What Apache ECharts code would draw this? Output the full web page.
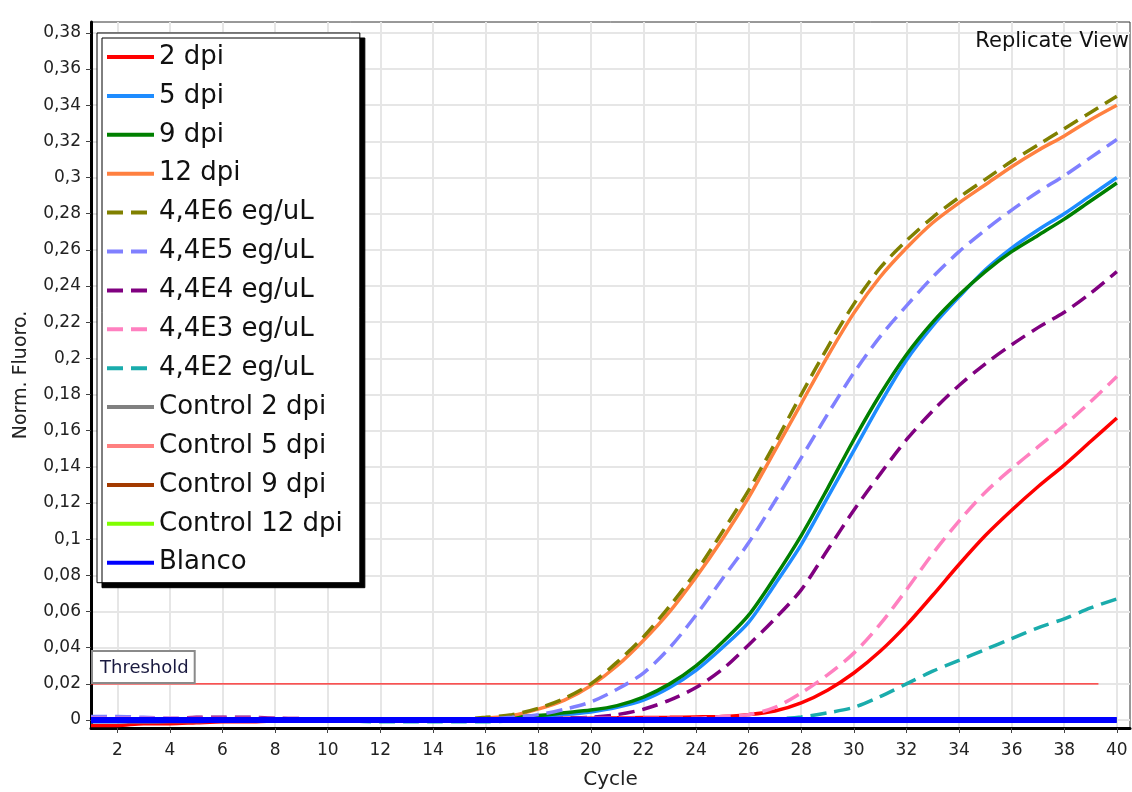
<!DOCTYPE html>
<html>
<head>
<meta charset="utf-8">
<script src="https://cdn.jsdelivr.net/npm/echarts@6/dist/echarts.min.js"></script>
<style>html,body{margin:0;padding:0;background:#fff}#c{width:1132px;height:792px}</style>
</head>
<body>
<div id="c"></div>
<script>
const cycles = [1,2,3,4,5,6,7,8,9,10,11,12,13,14,15,16,17,18,19,20,21,22,23,24,25,26,27,28,29,30,31,32,33,34,35,36,37,38,39,40];
const xTicks = [2,4,6,8,10,12,14,16,18,20,22,24,26,28,30,32,34,36,38,40];
const yTicks = [0,0.02,0.04,0.06,0.08,0.1,0.12,0.14,0.16,0.18,0.2,0.22,0.24,0.26,0.28,0.3,0.32,0.34,0.36,0.38];
const threshold = 0.02;
const thresholdSpan = [1, 39.3];

const dpi2 = [-0.003,-0.003,-0.002,-0.002,-0.0015,-0.001,-0.001,-0.0005,0,0, 0,0,0,0,0,0.0005,0.0005,0.0008,0.001,0.001, 0.0012,0.0014,0.0015,0.0017,0.002,0.003,0.005,0.0095,0.0165,0.026, 0.038,0.0525,0.069,0.086,0.102,0.116,0.129,0.141,0.154,0.167];
const dpi5 = [-0.001,-0.001,-0.001,-0.0008,-0.0008,-0.0005,-0.0005,-0.0005,-0.0003,0, 0,0,0,0,0,0.0005,0.001,0.002,0.003,0.0045, 0.007,0.011,0.018,0.0275,0.040,0.054,0.075,0.097,0.123,0.149, 0.175,0.199,0.218,0.234,0.249,0.261,0.271,0.280,0.290,0.300];
const dpi9 = [-0.0005,-0.0005,-0.0005,-0.0003,0,0,0,0,0,0, 0,0,0,0,0.0003,0.0008,0.0015,0.0025,0.004,0.0055, 0.008,0.0127,0.020,0.030,0.043,0.058,0.079,0.102,0.128,0.155, 0.180,0.202,0.220,0.235,0.248,0.259,0.268,0.277,0.287,0.297];
const dpi12 = [0,0,0,0,0,0,0,0,0,0, 0,0,0,0,0.0005,0.001,0.0025,0.006,0.011,0.019, 0.030,0.044,0.060,0.079,0.100,0.123,0.149,0.175,0.201,0.225, 0.245,0.261,0.275,0.286,0.296,0.306,0.315,0.323,0.332,0.340];
const e6 = [0,0,0,0,0,0,0,0,0,0, 0,0,0,0,0.0005,0.0015,0.003,0.0065,0.012,0.020, 0.032,0.046,0.063,0.082,0.104,0.127,0.153,0.180,0.206,0.230, 0.250,0.265,0.278,0.289,0.299,0.309,0.318,0.327,0.336,0.345];
const e5 = [0.002,0.002,0.0015,0.001,0.001,0.001,0.0008,0.0008,0.0005,0.0005, 0,0,0,0,0,0.0005,0.0015,0.003,0.006,0.010, 0.017,0.026,0.040,0.058,0.078,0.098,0.121,0.145,0.169,0.192, 0.212,0.229,0.245,0.259,0.271,0.282,0.292,0.301,0.311,0.321];
const e4 = [0.0005,0.0005,0.0005,0.0005,0.0015,0.0015,0.0015,0.001,0.0008,0.0005, 0,-0.0005,-0.0005,0,0,0,0,0.0005,0.001,0.0015, 0.003,0.006,0.011,0.018,0.028,0.0415,0.056,0.072,0.094,0.116, 0.136,0.155,0.171,0.185,0.197,0.2075,0.217,0.2255,0.236,0.248];
const e3 = [0.001,0.001,0.001,0.001,0.001,0.001,0.001,0.0008,0.0008,0.0005, 0,0,0,0,0,0,0,0,0.0005,0.001, 0.001,0.001,0.001,0.001,0.002,0.003,0.007,0.015,0.025,0.037, 0.053,0.072,0.092,0.110,0.126,0.139,0.151,0.163,0.176,0.190];
const e2 = [0,0,0,0,0,0,0,0,0,0.0005, -0.0005,-0.001,-0.001,-0.001,-0.001,-0.001,-0.0005,-0.0005,0,0, 0,0,0,0,0,0,0.0005,0.0017,0.004,0.007, 0.013,0.020,0.027,0.033,0.039,0.045,0.051,0.056,0.062,0.067];
const ctrl2 = [0,0,0,0,0,0,0,0,0,0, 0,0,0,0,0,0,0,0,0,0, 0,0,0,0,0,0,0,0,0,0, 0,0,0,0,0,0,0,0,0,0];
const ctrl5 = [0.0005,0.0005,0.0005,0,0,0,0,0,0,0, 0,0,0,0,0,0,0,0,0,0, 0,0,0,0,0,0,0,0,0,0, 0,0,0,0,0,0,0,0,0,0];
const ctrl9 = [-0.0005,-0.0005,0,0,0,0,0,0,0,0, 0,0,0,0,0,0,0,0,0,0, 0,0,0,0,0,0,0,0,0,0, 0,0,0,0,0,0,0,0,0,0];
const ctrl12 = [0,0,0,0,0,0,0,0,0,0, 0,0,0,0,0,0,0,0,0,0, 0,0,0,0,0,0,0,0,0,0, 0,0,0,0,0,0,0,0,0,0];
const blanco = [0,0,0,0,0,0,0,0,0,0, 0,0,0,0,0,0,0,0,0,0, 0,0,0,0,0,0,0,0,0,0, 0,0,0,0,0,0,0,0,0,0];

const names = ['2 dpi','5 dpi','9 dpi','12 dpi','4,4E6 eg/uL','4,4E5 eg/uL','4,4E4 eg/uL','4,4E3 eg/uL','4,4E2 eg/uL','Control 2 dpi','Control 5 dpi','Control 9 dpi','Control 12 dpi','Blanco'];
const values = [dpi2,dpi5,dpi9,dpi12,e6,e5,e4,e3,e2,ctrl2,ctrl5,ctrl9,ctrl12,blanco];
const colors = ['#ff0000','#1e8cff','#008000','#ff8040','#808000','#8080ff','#800080','#ff80c0','#1aacac','#808080','#ff8080','#a33a00','#80ff00','#0000ff'];
const dashed = [false,false,false,false,true,true,true,true,true,false,false,false,false,false];

const FONT = 'DejaVu Sans';
const series = names.map((n, i) => ({
  name: n,
  type: 'line',
  data: cycles.map((c, j) => [c, values[i][j]]),
  showSymbol: false,
  symbol: 'none',
  smooth: 0.3,
  lineStyle: { color: colors[i], width: n === 'Blanco' ? 6 : 3.5, type: dashed[i] ? [16, 8] : 'solid' },
  itemStyle: { color: colors[i] },
  z: 3 + i
}));
// threshold line as its own series (not in legend)
series.unshift({
  name: 'Threshold',
  type: 'line',
  data: thresholdSpan.map(x => [x, threshold]),
  showSymbol: false,
  symbol: 'none',
  silent: true,
  lineStyle: { color: '#ff2020', width: 1.2 },
  itemStyle: { color: '#ff2020' },
  z: 2,
  markLine: {
    silent: true,
    symbol: 'none',
    lineStyle: { color: 'rgba(255,255,255,0)', width: 1, type: 'solid' },
    label: {
      show: true, position: 'insideStartTop', formatter: 'Threshold', distance: 2,
      fontFamily: FONT, fontSize: 18, color: '#1a1a40',
      backgroundColor: '#fff', borderColor: '#8a8a8a', borderWidth: 2, padding: [7, 5, 5, 7]
    },
    data: [[{ coord: [thresholdSpan[0], threshold] }, { coord: [thresholdSpan[1], threshold] }]]
  }
});

const chart = echarts.init(document.getElementById('c'), null, { renderer: 'canvas' });
chart.setOption({
  animation: false,
  backgroundColor: '#fff',
  textStyle: { fontFamily: FONT },
  title: {
    text: 'Replicate View', right: 0, top: 26, padding: [5, 3, 5, 5],
    textStyle: { fontFamily: FONT, fontSize: 21, fontWeight: 'normal', color: '#111' }
  },
  grid: {
    left: 91, right: 2, top: 22, bottom: 64, containLabel: false, outerBoundsMode: 'none',
    show: true, borderColor: '#333', borderWidth: 1, backgroundColor: 'transparent'
  },
  legend: {
    orient: 'vertical', left: 97, top: 33,
    padding: [11, 17, 7, 8],
    itemWidth: 47, itemHeight: 24, itemGap: 12.9,
    backgroundColor: '#fff', borderColor: '#000', borderWidth: 1,
    shadowColor: '#000', shadowBlur: 0, shadowOffsetX: 5, shadowOffsetY: 5,
    lineStyle: { width: 4 },
    itemStyle: { opacity: 0, color: 'transparent', borderColor: 'transparent', borderWidth: 0 },
    textStyle: { fontFamily: FONT, fontSize: 26, color: '#111' },
    data: names
  },
  xAxis: {
    type: 'value', min: 1, max: 40.5,
    name: 'Cycle', nameLocation: 'middle', nameGap: 42,
    nameTextStyle: { fontFamily: FONT, fontSize: 20, color: '#222' },
    axisLine: { onZero: false, lineStyle: { color: '#000', width: 3 } },
    axisTick: { show: true, length: 5, customValues: xTicks, lineStyle: { color: '#444', width: 1 } },
    axisLabel: { customValues: xTicks, fontFamily: FONT, fontSize: 17, color: '#222', margin: 14 },
    splitLine: { show: true, lineStyle: { color: '#e6e6e6', width: 2 } }
  },
  yAxis: {
    type: 'value', min: -0.0044, max: 0.386,
    name: 'Norm. Fluoro.', nameLocation: 'middle', nameGap: 60,
    nameTextStyle: { fontFamily: FONT, fontSize: 19, color: '#222' },
    axisLine: { onZero: false, lineStyle: { color: '#000', width: 3 } },
    axisTick: { show: true, length: 5, customValues: yTicks, lineStyle: { color: '#444', width: 1 } },
    axisLabel: {
      customValues: yTicks, fontFamily: FONT, fontSize: 17, color: '#222', margin: 10,
      formatter: v => String(Math.round(v * 100) / 100).replace('.', ',')
    },
    splitLine: { show: true, lineStyle: { color: '#e6e6e6', width: 2 } }
  },
  series: series
});
</script>
</body>
</html>
